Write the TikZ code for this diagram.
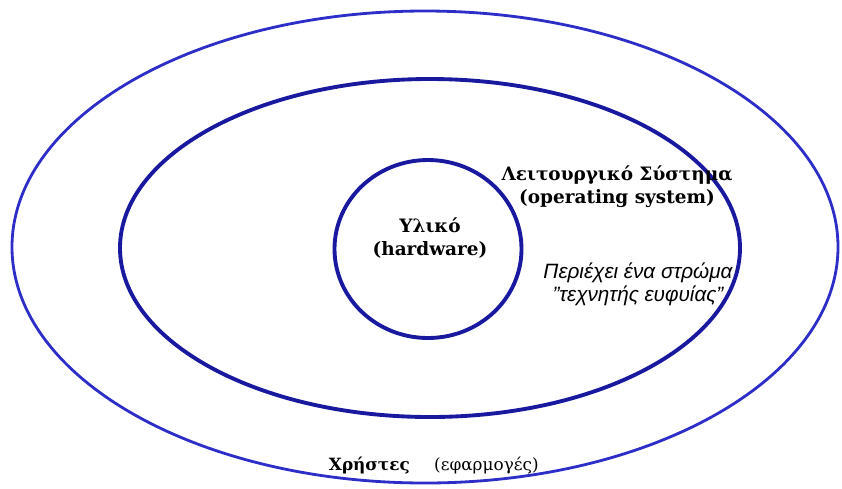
\documentclass[tikz,border=0pt]{standalone}
\usepackage{fontspec}
\setmainfont{DejaVu Serif}
\setsansfont{Liberation Sans}
\usetikzlibrary{shapes.geometric}
\definecolor{ringblue}{RGB}{45,45,200}
\definecolor{deepblue}{RGB}{25,25,160}

\begin{document}
\begin{tikzpicture}[x=0.02cm,y=-0.02cm,
 ring/.style={draw,ellipse,inner sep=0pt},
 lbl/.style={font=\fontsize{10.5}{13}\selectfont\bfseries,align=center},
 note/.style={font=\fontsize{11.8}{13}\selectfont\sffamily\itshape,align=center}]
\useasboundingbox (0,0) rectangle (842,488);
\node[ring,draw=ringblue,line width=1.6pt,minimum width=826*0.02cm,minimum height=472*0.02cm] (users) at (425,247) {};
\node[ring,draw=deepblue,line width=2.2pt,minimum width=620*0.02cm,minimum height=338*0.02cm] (os) at (430,248) {};
\node[ring,draw=deepblue,line width=2.2pt,minimum width=187*0.02cm,minimum height=178*0.02cm] (hw) at (428,249) {};
\node[lbl] (hwtext) at (430,238) {Υλικό\\(hardware)};
\node[lbl] (ostext) at (617,187) {Λειτουργικό Σύστημα\\(operating system)};
\node[note] (ai) at (638,284) {Περιέχει ένα στρώμα\\"τεχνητής ευφυίας"};
\node[lbl,font=\fontsize{9.6}{12}\selectfont\bfseries,anchor=east] (apps) at (416,466) {Χρήστες};
\node[font=\fontsize{9.6}{12}\selectfont,anchor=west] (appsnote) at (428,466) {(εφαρμογές)};
\end{tikzpicture}
\end{document}
